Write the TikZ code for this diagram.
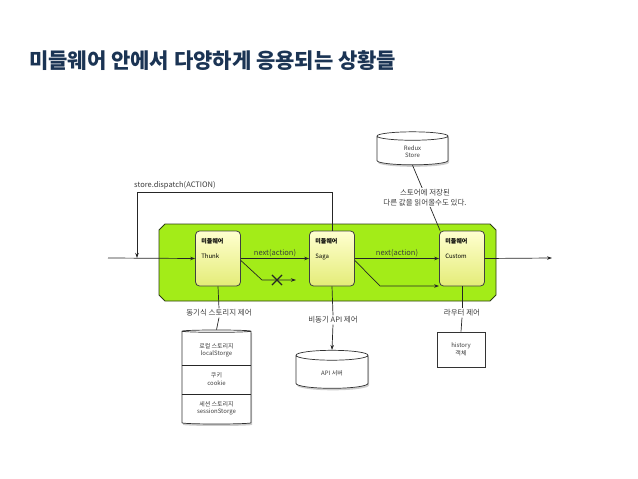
\documentclass[tikz,border=0pt]{standalone}
\usepackage{fontspec}
\setmainfont{Noto Sans CJK KR}
\usetikzlibrary{positioning,shapes.geometric,shapes.misc,shadows,arrows.meta}

\definecolor{titleblue}{RGB}{27,52,84}
\definecolor{limegreen}{RGB}{163,236,24}
\definecolor{paneledge}{RGB}{45,60,20}
\definecolor{boxtop}{RGB}{255,255,208}
\definecolor{boxbot}{RGB}{228,236,120}
\definecolor{labelgray}{RGB}{60,60,60}

\tikzset{
  arr/.style={draw=black!85, line width=0.7pt, -{Stealth[length=5pt,width=3.5pt]}},
  link/.style={draw=black!85, line width=0.7pt},
  panel/.style={fill=limegreen, draw=paneledge, line width=0.8pt},
  mware/.style={draw=black!75, rounded corners=4pt, top color=boxtop, bottom color=boxbot, minimum width=45pt, minimum height=55pt, line width=0.8pt},
  mwtext/.style={anchor=north west, align=left, font=\fontsize{6}{9}\selectfont, inner sep=0pt},
  lbl/.style={font=\fontsize{7.5}{9.5}\selectfont, text=labelgray, inner sep=1pt, align=center},
  drum/.style={cylinder, shape border rotate=90, draw=black!80, fill=white, aspect=0.35, line width=0.7pt, drop shadow={shadow xshift=1pt, shadow yshift=-2pt, opacity=0.4}, font=\fontsize{6}{7.5}\selectfont, align=center, text=labelgray},
  small/.style={font=\fontsize{6}{7.5}\selectfont, align=center, text=labelgray, inner sep=0pt},
}

\begin{document}
\begin{tikzpicture}[x=1pt,y=-1pt]
  \useasboundingbox (0,0) rectangle (638,479);
  \node[anchor=west, inner sep=0pt, text=titleblue, font=\fontsize{21}{24}\selectfont\bfseries] (title) at (29,61) {미들웨어 안에서 다양하게 응용되는 상황들};

  \path[panel] (159,230) -- (165,224) -- (490,224) -- (496,230) -- (496,295) -- (490,301) -- (165,301) -- (159,295) -- cycle;

  \node[mware] (thunk) at (218,258.5) {};
  \node[mware] (saga) at (332,258.5) {};
  \node[mware] (custom) at (462,258.5) {};
  \node[mwtext] at ([xshift=6,yshift=-8]thunk.north west) {\textbf{미들웨어}\\[6pt]Thunk};
  \node[mwtext] at ([xshift=6,yshift=-8]saga.north west) {\textbf{미들웨어}\\[6pt]Saga};
  \node[mwtext] at ([xshift=6,yshift=-8]custom.north west) {\textbf{미들웨어}\\[6pt]Custom};

  \coordinate (in) at (108,258);
  \coordinate (out) at (552,258);
  \coordinate (disp) at (137,192);
  \coordinate (blk) at (262,280);
  \coordinate (blkend) at (296,280);
  \coordinate (bend) at (380,286);

  \node[drum, minimum width=71pt, minimum height=33pt] (redux) at (412.5,151.5) {Redux\\Store};
  \node[drum, minimum width=69pt, minimum height=94pt] (storage) at (216.5,378) {};
  \node[drum, minimum width=72pt, minimum height=38pt] (api) at (332,373) {API 서버};
  \node[draw=black!80, line width=0.7pt, minimum width=48pt, minimum height=35pt, small] (history) at (461,349.5) {history\\객체};

  \node[small] (local) at (216.5,350.5) {로컬 스토리지\\localStorge};
  \node[small] (cookie) at (216.5,379) {쿠키\\cookie};
  \node[small] (session) at (216.5,408.5) {세션 스토리지\\sessionStorge};
  \draw[link] (storage.west |- 0,365) -- (storage.east |- 0,365);
  \draw[link] (storage.west |- 0,394) -- (storage.east |- 0,394);

  \node[lbl] (syncl) at (219,313) {동기식 스토리지 제어};
  \node[lbl] (asyncl) at (333,320) {비동기 API 제어};
  \node[lbl] (routl) at (462,313) {라우터 제어};

  \draw[arr] (in) -- (thunk.west);
  \draw[arr] (thunk.east) -- (saga.west) node[lbl, midway, above] {next(action)};
  \draw[arr] (saga.east) -- (custom.west) node[lbl, midway, above] {next(action)};
  \draw[arr] (custom.east) -- (out);
  \draw[arr] (saga.north) |- (disp) -- (disp |- in);
  \node[lbl, anchor=south west] (displ) at ([xshift=-4,yshift=2]disp) {store.dispatch(ACTION)};

  \draw[arr] ([yshift=-2]thunk.east) -- (blk) -- (blkend);
  \node[cross out, draw=black!85, line width=1.1pt, minimum size=9pt, inner sep=0pt] (cut) at (277,280) {};
  \draw[arr] ([yshift=-2]saga.east) -- (bend) -- (bend -| custom.west);

  \draw[link] (redux.south) -- ([xshift=1]custom.north west);
  \node[lbl, fill=white] (readl) at (425,197.5) {스토어에 저장된\\다른 값을 읽어올수도 있다.};

  \foreach \source/\dest in {thunk/syncl, syncl/storage, custom/routl, routl/history, saga/asyncl}
    \draw[link] (\source.south) -- (\dest.north);
  \draw[arr] (asyncl.south) -- (api.north);
\end{tikzpicture}
\end{document}
